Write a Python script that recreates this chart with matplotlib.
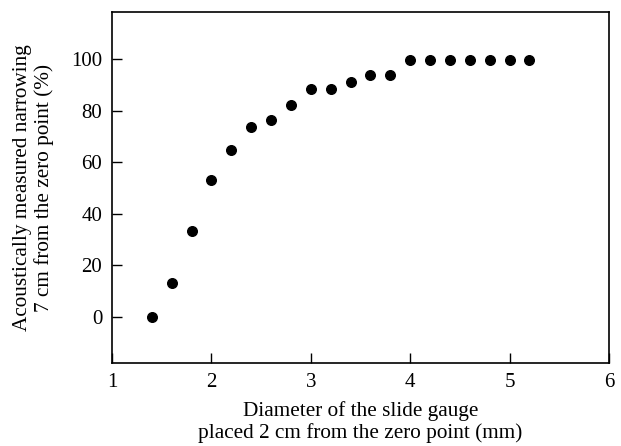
import matplotlib
matplotlib.use("Agg")
import matplotlib.pyplot as plt

''' Acoustically measured narrowing vs slide gauge diameter '''

diameter = [1.4, 1.6, 1.8, 2.0, 2.2, 2.4, 2.6, 2.8, 3.0, 3.2, 3.4, 3.6, 3.8,
            4.0, 4.2, 4.4, 4.6, 4.8, 5.0, 5.2]
narrowing = [0, 13.2, 33.2, 53, 64.7, 73.5, 76.4, 82.3, 88.2, 88.2, 91.2, 93.9, 93.9,
             99.7, 99.7, 99.7, 99.7, 99.7, 99.7, 99.7]

plt.rcParams['font.family'] = ['Liberation Serif', 'DejaVu Serif']

fig = plt.figure(figsize=(6.21, 4.46), dpi=100)
ax = fig.add_axes([112 / 621, 1 - 363 / 446, (609 - 112) / 621, (363 - 12) / 446])

ax.scatter(diameter, narrowing, s=48, color='black', zorder=3)

ax.set_xlim(1, 6)
ax.set_ylim(-17.8, 118.2)
ax.set_xticks([1, 2, 3, 4, 5, 6])
ax.set_yticks([0, 20, 40, 60, 80, 100])
ax.tick_params(direction='in', length=7, width=1, labelsize=15, pad=7)
for sp in ax.spines.values():
    sp.set_linewidth(1.2)

ax.set_xlabel("Diameter of the slide gauge\nplaced 2 cm from the zero point (mm)",
              fontsize=15.3, linespacing=1.15, labelpad=7)
ax.set_ylabel("Acoustically measured narrowing\n7 cm from the zero point (%)",
              fontsize=15.3, linespacing=1.15, labelpad=12)

fig.savefig("out.png", dpi=100)
